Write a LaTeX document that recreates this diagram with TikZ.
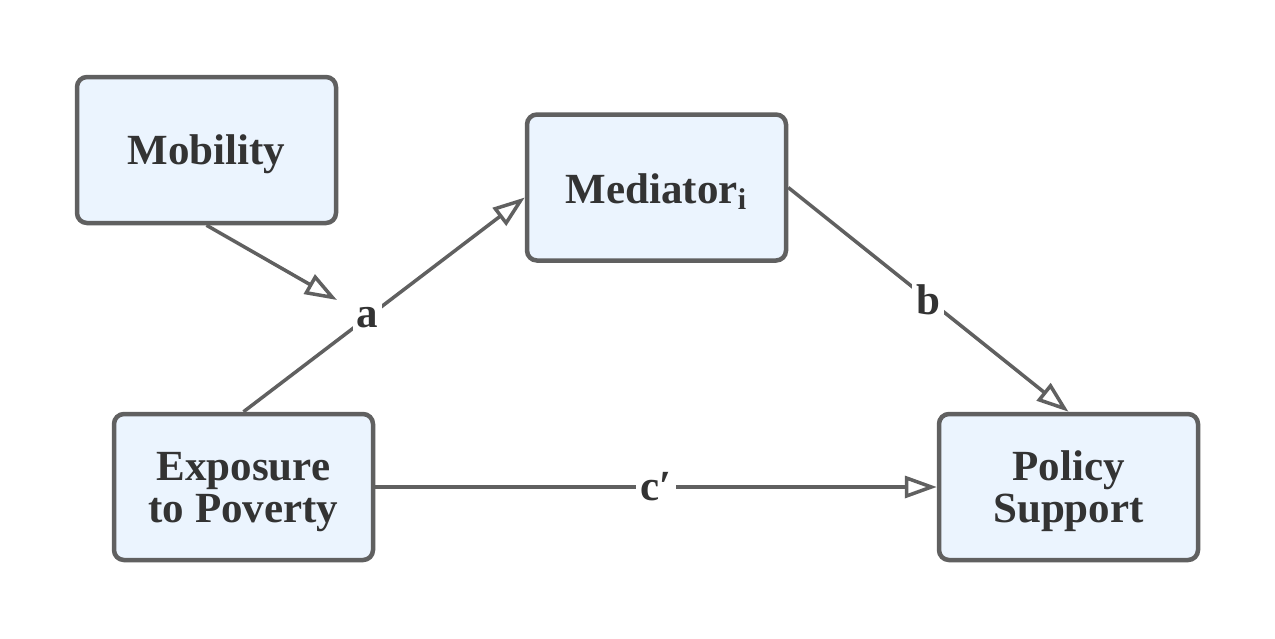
\documentclass[tikz,border=0pt]{standalone}
\usepackage{fontspec}
\setmainfont{Liberation Serif}
\usetikzlibrary{arrows.meta}
\definecolor{edgegray}{HTML}{606060}
\definecolor{boxfill}{HTML}{EBF4FE}
\definecolor{txt}{HTML}{333333}
\newcommand\strutup{\rule{0pt}{19pt}}
\tikzset{
  varbox/.style={draw=edgegray, line width=2.25pt, fill=boxfill, rounded corners=5pt,
    minimum width=129.5pt, minimum height=73pt, inner sep=0pt, align=center,
    text=txt, font=\fontsize{21.5}{21}\selectfont\bfseries},
  path/.style={draw=edgegray, line width=1.75pt,
    -{Triangle[open, length=16pt, width=11pt, line width=1.75pt]}},
  lbl/.style={fill=white, inner sep=2pt, text=txt, font=\fontsize{21.5}{21}\selectfont\bfseries}
}
\begin{document}
\begin{tikzpicture}[x=0.5pt, y=-0.5pt]
\useasboundingbox (0,0) rectangle (1275,638);
\fill[white] (0,0) rectangle (1275,638);
\node[varbox] (mob) at (206.5,150) {\strutup Mobility};
\node[varbox] (med) at (656.5,187.5) {\strutup Mediator\textsubscript{i}};
\node[varbox] (exp) at (243.5,487) {\strutup Exposure\\to Poverty};
\node[varbox] (pol) at (1068.5,487) {\strutup Policy\\Support};
\coordinate (tip) at (337,300);
\draw[path] (mob.south) -- (tip);
\draw[path] (exp.north) -- ([yshift=-5pt]med.west) node[lbl, pos=0.44] (la) {a};
\draw[path] (med.east) -- (pol.north) node[lbl, pos=0.5] (lb) {b};
\draw[path] (exp.east) -- (pol.west) node[lbl, pos=0.5] (lc) {c′};
\end{tikzpicture}
\end{document}
